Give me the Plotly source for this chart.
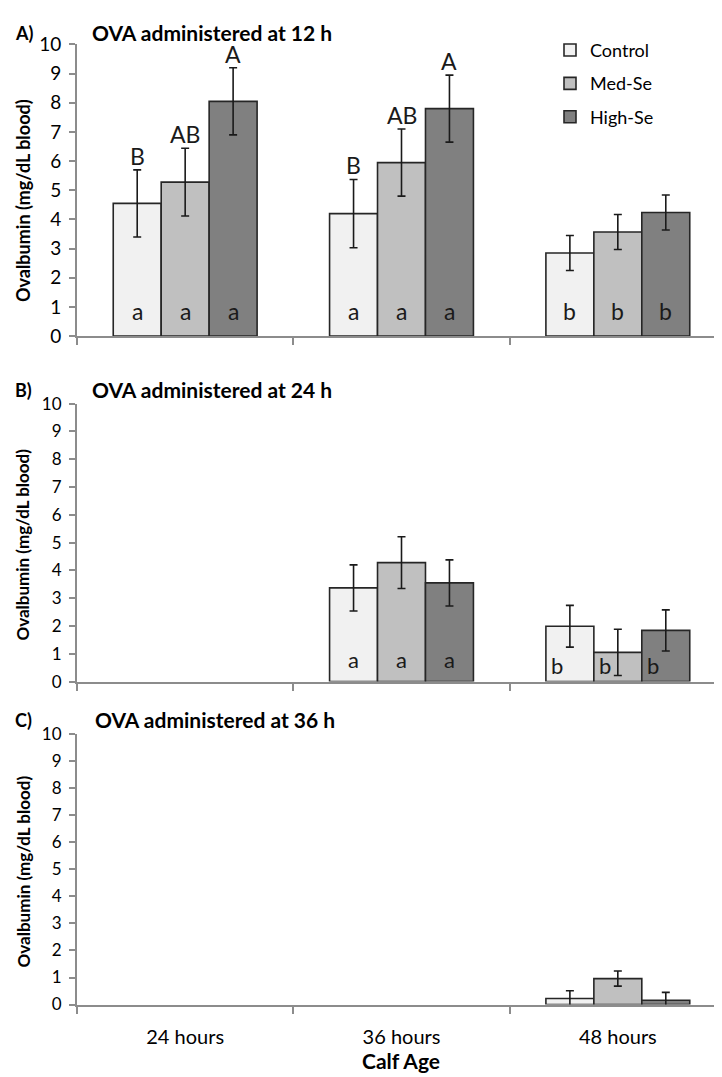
import plotly.graph_objects as go

# ---------------- data ----------------
categories = ["24 hours", "36 hours", "48 hours"]
series_names = ["Control", "Med-Se", "High-Se"]

a_control = [4.55, 4.20, 2.85]
a_control_err = [1.15, 1.17, 0.60]
a_med = [5.28, 5.95, 3.57]
a_med_err = [1.16, 1.15, 0.60]
a_high = [8.05, 7.80, 4.24]
a_high_err = [1.15, 1.15, 0.60]

b_control = [None, 3.37, 1.99]
b_control_err = [None, 0.83, 0.75]
b_med = [None, 4.28, 1.05]
b_med_err = [None, 0.93, 0.83]
b_high = [None, 3.55, 1.84]
b_high_err = [None, 0.83, 0.74]

c_control = [None, None, 0.22]
c_control_err = [None, None, 0.29]
c_med = [None, None, 0.96]
c_med_err = [None, None, 0.28]
c_high = [None, None, 0.16]
c_high_err = [None, None, 0.29]

a_upper = [["B", "B", ""], ["AB", "AB", ""], ["A", "A", ""]]
a_lower = [["a", "a", "b"], ["a", "a", "b"], ["a", "a", "b"]]
b_lower = [["", "a", "b"], ["", "a", "b"], ["", "a", "b"]]

panel_titles = ["OVA administered at 12 h", "OVA administered at 24 h", "OVA administered at 36 h"]
panel_tags = ["A)", "B)", "C)"]
y_ticks = list(range(0, 11))

# ---------------- style ----------------
W, H = 722, 1077
FONT = "Lato"
colors = ["#f1f1f1", "#c0c0c0", "#808080"]
outline = "#262626"
axis_col = "#8c8c8c"
x_left, x_right = 69, 718
panels_px = [(25, 323), (392, 676), (730, 1006)]  # (y of 10, y of 0)
title_y = [13, 378, 715]

def py(v):
    return 1 - v / H

fig = go.Figure()

panel_data = [
    [(a_control, a_control_err), (a_med, a_med_err), (a_high, a_high_err)],
    [(b_control, b_control_err), (b_med, b_med_err), (b_high, b_high_err)],
    [(c_control, c_control_err), (c_med, c_med_err), (c_high, c_high_err)],
]

for p, series in enumerate(panel_data):
    xa = "x" if p == 0 else f"x{p+1}"
    ya = "y" if p == 0 else f"y{p+1}"
    for s, (vals, errs) in enumerate(series):
        fig.add_trace(go.Bar(
            x=categories, y=vals, name=series_names[s],
            marker=dict(color=colors[s], line=dict(color=outline, width=1.6)),
            error_y=dict(type="data", array=errs, visible=True,
                         color="#1a1a1a", thickness=1.6, width=4),
            xaxis=xa, yaxis=ya, offsetgroup=str(s),
            showlegend=(p == 0), legendgroup=series_names[s],
            hoverinfo="skip",
        ))

bar_px = (x_right - x_left) / 3 * (1 - 0.335) / 3
shifts = [-bar_px, 0, bar_px]

annotations = []
for p in range(3):
    top, bot = panels_px[p]
    # panel tag
    annotations.append(dict(x=5 / W, y=py(title_y[p]),
                            xref="paper", yref="paper", text=f"<b>{panel_tags[p]}</b>",
                            showarrow=False, xanchor="left", yanchor="middle",
                            font=dict(family=FONT, size=18, color="black")))
    # panel title
    annotations.append(dict(x=(82 if p < 2 else 85) / W, y=py(title_y[p]),
                            xref="paper", yref="paper", text=f"<b>{panel_titles[p]}</b>",
                            showarrow=False, xanchor="left", yanchor="middle",
                            font=dict(family=FONT, size=21, color="black")))
    # y axis title
    annotations.append(dict(x=15 / W, y=py((top + bot) / 2 + (11 if p == 0 else 2)),
                            xref="paper", yref="paper", text="<b>Ovalbumin (mg/dL blood)</b>",
                            showarrow=False, textangle=-90, xanchor="center", yanchor="middle",
                            font=dict(family=FONT, size=18 if p == 0 else 17, color="black")))

# letters panel A
a_vals = [(a_control, a_control_err), (a_med, a_med_err), (a_high, a_high_err)]
for s in range(3):
    vals, errs = a_vals[s]
    for c in range(3):
        if a_upper[s][c]:
            annotations.append(dict(x=categories[c], y=vals[c] + errs[c], xref="x", yref="y",
                                    text=a_upper[s][c], showarrow=False, xshift=shifts[s],
                                    yanchor="bottom", yshift=-2,
                                    font=dict(family=FONT, size=23, color="#1a1a1a")))
        annotations.append(dict(x=categories[c], y=0.87, xref="x", yref="y",
                                text=a_lower[s][c], showarrow=False, xshift=shifts[s],
                                yanchor="middle",
                                font=dict(family=FONT, size=23, color="#1a1a1a")))
# letters panel B
for s in range(3):
    for c in range(3):
        if b_lower[s][c]:
            left = c == 2
            annotations.append(dict(x=categories[c], y=0.56 if left else 0.8, xref="x2", yref="y2",
                                    text=b_lower[s][c], showarrow=False,
                                    xshift=shifts[s] + (-13 if left else 0),
                                    yanchor="middle",
                                    font=dict(family=FONT, size=22, color="#1a1a1a")))

# x axis title
annotations.append(dict(x=((x_left + x_right) / 2) / W, y=py(1063), xref="paper", yref="paper",
                        text="<b>Calf Age</b>", showarrow=False, xanchor="center", yanchor="middle",
                        font=dict(family=FONT, size=21, color="black")))

layout = dict(
    width=W, height=H,
    margin=dict(l=0, r=0, t=0, b=0),
    paper_bgcolor="white", plot_bgcolor="white",
    barmode="group", bargap=0.335, bargroupgap=0,
    font=dict(family=FONT, color="black"),
    annotations=annotations,
    legend=dict(x=542 / W, y=py(12), xanchor="left", yanchor="top",
                font=dict(family=FONT, size=18, color="black"),
                tracegroupgap=7, bgcolor="rgba(0,0,0,0)", itemclick=False),
)

for p in range(3):
    top, bot = panels_px[p]
    xk = "xaxis" if p == 0 else f"xaxis{p+1}"
    yk = "yaxis" if p == 0 else f"yaxis{p+1}"
    layout[xk] = dict(
        domain=[x_left / W, x_right / W],
        anchor="y" if p == 0 else f"y{p+1}",
        type="category", categoryorder="array", categoryarray=categories,
        range=[-0.5, 2.5],
        showline=True, linecolor=axis_col, linewidth=2,
        ticks="outside", tickson="boundaries", ticklen=7, tickcolor=axis_col, tickwidth=1.5,
        showticklabels=(p == 2), ticklabelstandoff=13,
        tickfont=dict(family=FONT, size=20, color="black"),
        showgrid=False, zeroline=False, fixedrange=True,
    )
    layout[yk] = dict(
        domain=[py(bot), py(top)],
        anchor="x" if p == 0 else f"x{p+1}",
        range=[0, 10], tickvals=y_ticks,
        showline=True, linecolor=axis_col, linewidth=2,
        ticks="outside", ticklen=6, tickcolor=axis_col, tickwidth=1.5,
        tickfont=dict(family=FONT, size=19 if p == 0 else 17, color="black"),
        ticklabelstandoff=4,
        showgrid=False, zeroline=False, fixedrange=True,
    )

fig.update_layout(**layout)
fig.write_html("out.html")
